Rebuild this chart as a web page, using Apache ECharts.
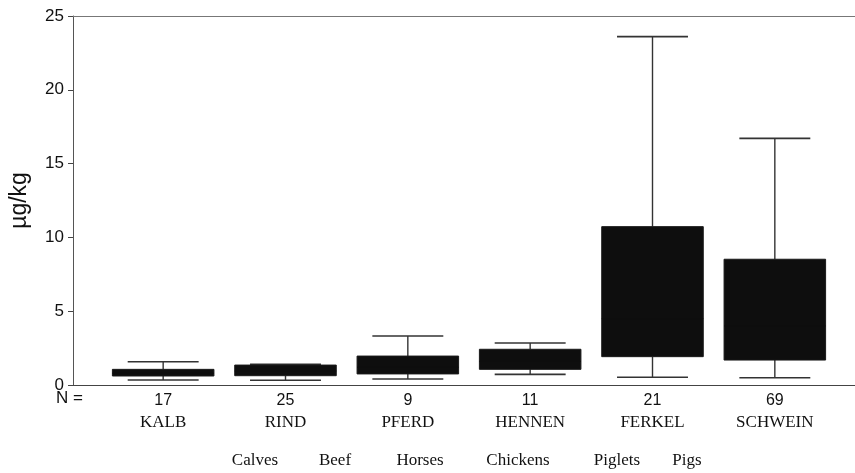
<!DOCTYPE html>
<html>
<head>
<meta charset="utf-8">
<script src="https://cdn.jsdelivr.net/npm/echarts@6/dist/echarts.min.js"></script>
<style>
  html, body { margin: 0; padding: 0; background: #fff; }
  #chart { width: 855px; height: 473px; }
</style>
</head>
<body>
<div id="chart"></div>
<script>
// data
var categories = ['KALB', 'RIND', 'PFERD', 'HENNEN', 'FERKEL', 'SCHWEIN'];
var counts = [17, 25, 9, 11, 21, 69];
var englishNames = ['Calves', 'Beef', 'Horses', 'Chickens', 'Piglets', 'Pigs'];
var whiskerLow = [0.34, 0.32, 0.41, 0.72, 0.52, 0.49];
var quartile1 = [0.61, 0.63, 0.75, 1.06, 1.92, 1.69];
var median = [0.8, 0.95, 1.2, 1.6, 4.5, 4.0];
var quartile3 = [1.06, 1.35, 1.96, 2.42, 10.73, 8.52];
var whiskerHigh = [1.58, 1.40, 3.32, 2.85, 23.6, 16.71];
var yTicks = [0, 5, 10, 15, 20, 25];

// layout of the english translation line (x centres, px)
var englishX = [255, 335, 420, 518, 617, 687];

var boxData = categories.map(function (c, i) {
  return [i, whiskerLow[i], quartile1[i], median[i], quartile3[i], whiskerHigh[i]];
});

var myChart = echarts.init(document.getElementById('chart'));

var ink = '#111';
var lineCol = '#333';

var graphics = [{
  type: 'text',
  left: 56,
  top: 390,
  style: { text: 'N =', font: '17px Arial, "Liberation Sans", sans-serif', fill: ink }
}];
englishNames.forEach(function (n, i) {
  graphics.push({
    type: 'text',
    x: englishX[i],
    y: 461,
    style: {
      text: n,
      font: '17px "Liberation Serif", "DejaVu Serif", serif',
      fill: ink,
      align: 'center',
      verticalAlign: 'middle'
    }
  });
});

var option = {
  backgroundColor: '#fff',
  animation: false,
  graphic: graphics,
  grid: [
    { left: 72, right: 0, top: 16, bottom: 88 },
    { left: 102, right: 19, top: 16, bottom: 88 }
  ],
  xAxis: [
    {
      gridIndex: 0, type: 'value', min: 0, max: 1, position: 'bottom',
      axisLine: { show: true, lineStyle: { color: '#444', width: 1 } },
      axisTick: { show: false }, axisLabel: { show: false }, splitLine: { show: false }
    },
    {
      gridIndex: 0, type: 'value', min: 0, max: 1, position: 'top',
      axisLine: { show: true, lineStyle: { color: '#777', width: 1 } },
      axisTick: { show: false }, axisLabel: { show: false }, splitLine: { show: false }
    },
    {
      gridIndex: 1, type: 'category', data: categories, boundaryGap: true,
      axisLine: { show: false },
      axisTick: { show: false },
      axisLabel: {
        margin: 6,
        interval: 0,
        formatter: function (v, i) {
          return '{n|' + counts[i] + '}\n{c|' + v + '}';
        },
        rich: {
          n: { fontFamily: 'Arial, "Liberation Sans", sans-serif', fontSize: 16, color: ink, lineHeight: 20 },
          c: { fontFamily: '"Liberation Serif", "DejaVu Serif", serif', fontSize: 17, color: ink, lineHeight: 24 }
        }
      }
    }
  ],
  yAxis: [
    {
      gridIndex: 0, type: 'value', min: 0, max: 25, interval: 5,
      name: 'µg/kg',
      nameLocation: 'middle',
      nameRotate: 90,
      nameGap: 42,
      nameTextStyle: { fontFamily: 'Arial, "Liberation Sans", sans-serif', fontSize: 23, color: ink },
      axisLine: { show: true, lineStyle: { color: '#555', width: 1 } },
      axisTick: { show: true, length: 5, lineStyle: { color: '#444' } },
      axisLabel: {
        margin: 9,
        fontFamily: 'Arial, "Liberation Sans", sans-serif',
        fontSize: 17,
        color: ink,
        formatter: function (v) { return yTicks.indexOf(v) >= 0 ? String(v) : ''; }
      },
      splitLine: { show: false }
    },
    {
      gridIndex: 1, type: 'value', min: 0, max: 25, interval: 5, show: false
    }
  ],
  series: [{
    type: 'custom',
    xAxisIndex: 2,
    yAxisIndex: 1,
    data: boxData,
    encode: { x: 0, y: [1, 2, 3, 4, 5] },
    renderItem: function (params, api) {
      var x = api.value(0);
      var low = api.coord([x, api.value(1)]);
      var q1 = api.coord([x, api.value(2)]);
      var med = api.coord([x, api.value(3)]);
      var q3 = api.coord([x, api.value(4)]);
      var high = api.coord([x, api.value(5)]);
      var band = api.size([1, 0])[0];
      var boxHalf = band * 0.415;
      var capHalf = band * 0.29;
      var cx = low[0];
      var ls = { stroke: lineCol, lineWidth: 1.4 };
      return {
        type: 'group',
        children: [
          { type: 'line', shape: { x1: cx, y1: low[1], x2: cx, y2: q1[1] }, style: ls },
          { type: 'line', shape: { x1: cx, y1: q3[1], x2: cx, y2: high[1] }, style: ls },
          { type: 'line', shape: { x1: cx - capHalf, y1: low[1], x2: cx + capHalf, y2: low[1] }, style: { stroke: lineCol, lineWidth: 1.6 } },
          { type: 'line', shape: { x1: cx - capHalf, y1: high[1], x2: cx + capHalf, y2: high[1] }, style: { stroke: lineCol, lineWidth: 1.6 } },
          { type: 'rect', shape: { x: cx - boxHalf, y: q3[1], width: boxHalf * 2, height: q1[1] - q3[1] }, style: { fill: '#0e0e0e', stroke: '#1a1a1a', lineWidth: 1 } },
          { type: 'line', shape: { x1: cx - boxHalf, y1: med[1], x2: cx + boxHalf, y2: med[1] }, style: { stroke: '#0e0e0e', lineWidth: 1 } }
        ]
      };
    }
  }]
};

myChart.setOption(option, true);
window.addEventListener('resize', function () {
  myChart.resize();
});
</script>
</body>
</html>
